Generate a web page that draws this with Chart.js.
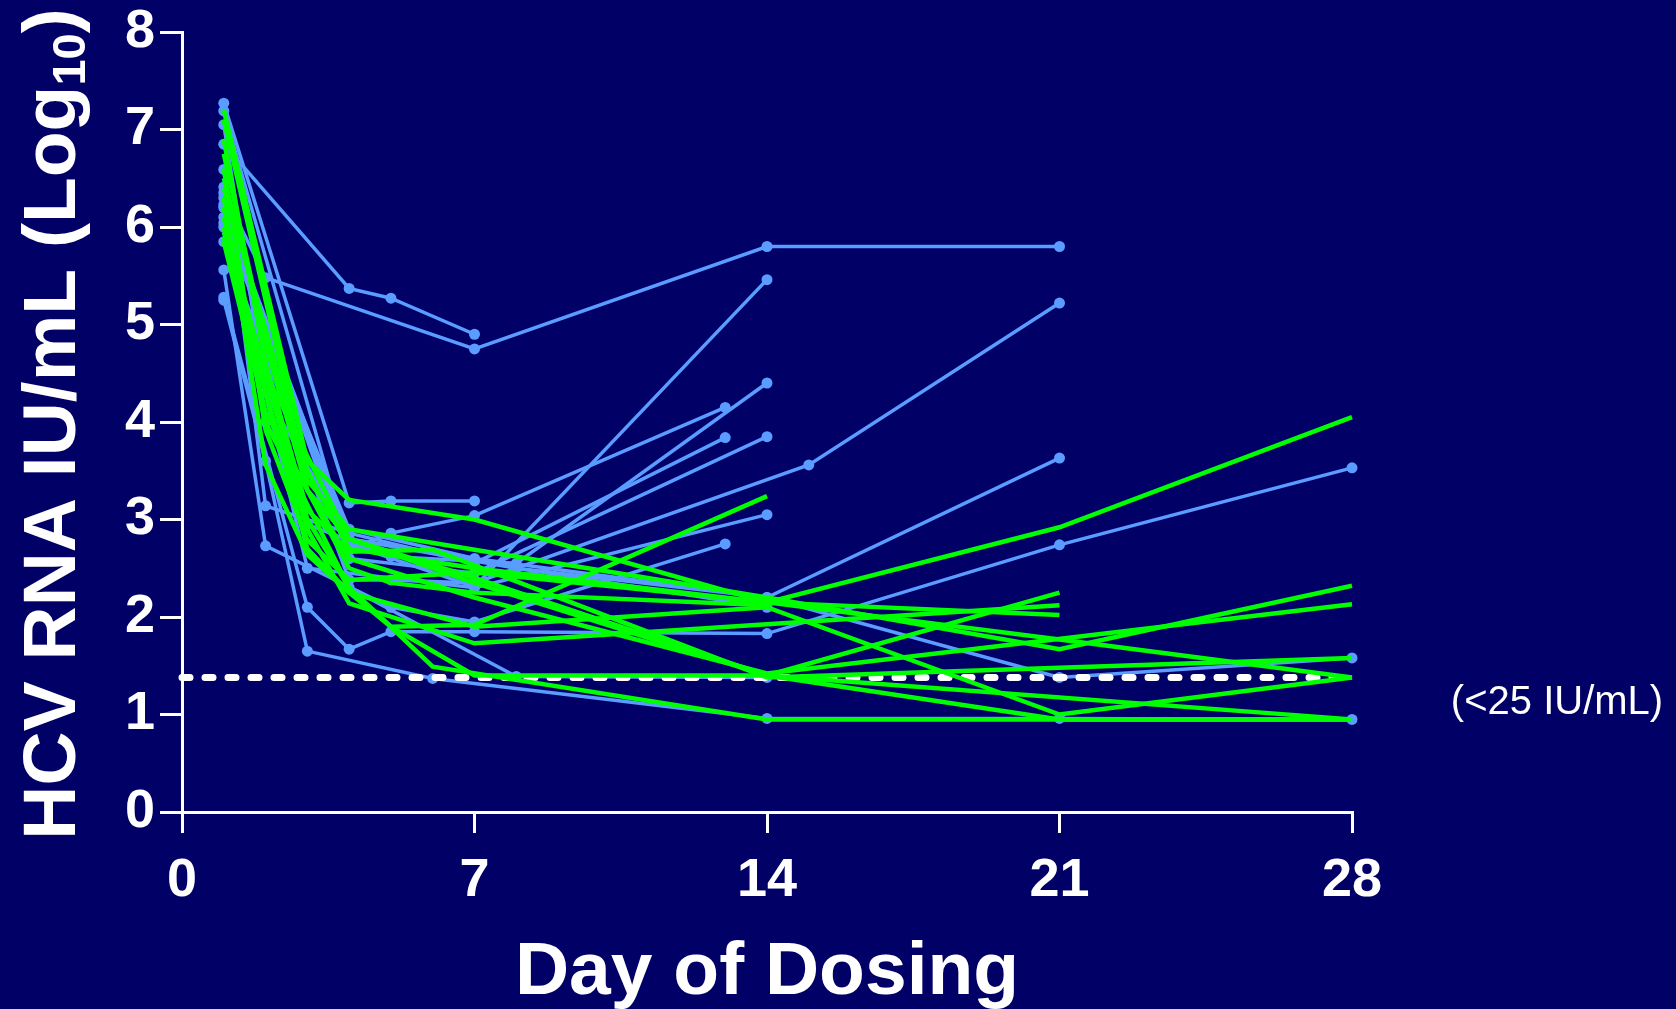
<!DOCTYPE html>
<html>
<head>
<meta charset="utf-8">
<script src="https://cdn.jsdelivr.net/npm/chart.js@4.4.1/dist/chart.umd.min.js"></script>
<style>
  html, body { margin: 0; padding: 0; background: #000066; overflow: hidden; }
  canvas { display: block; }
</style>
</head>
<body>
<canvas id="hcvChart" width="1676" height="1009"></canvas>
<script>
// Blue subjects (with markers): days and log10 values
const blueDays = [
  [1, 4, 5, 7],
  [1, 2, 7, 14, 21],
  [1, 4, 5, 7],
  [1, 4, 5, 7, 13],
  [1, 2, 4, 7, 13],
  [1, 3, 5, 8, 14],
  [1, 4, 7, 14],
  [1, 4, 7, 14],
  [1, 4, 5, 7, 15, 21],
  [1, 3, 7, 14],
  [1, 2, 5, 7, 13],
  [1, 3, 4, 5, 7, 14, 21, 28],
  [1, 2, 3, 6, 14, 21, 28],
  [1, 2, 4, 8, 14],
  [1, 4, 7, 14, 21, 28],
  [1, 4, 8, 14, 21],
  [1, 2, 4, 8, 14]
];
const blueLogs = [
  [6.85, 5.37, 5.27, 4.90],
  [6.35, 5.48, 4.75, 5.80, 5.80],
  [7.27, 3.17, 3.19, 3.19],
  [7.19, 2.69, 2.86, 3.04, 4.15],
  [6.59, 3.14, 2.86, 2.55, 3.84],
  [6.41, 2.95, 2.62, 2.55, 4.40],
  [6.23, 2.60, 2.45, 3.85],
  [6.10, 2.75, 2.31, 5.46],
  [5.85, 2.38, 2.38, 2.35, 3.56, 5.22],
  [6.04, 2.50, 2.30, 3.05],
  [5.56, 2.73, 2.10, 1.95, 2.75],
  [5.28, 2.10, 1.67, 1.85, 1.85, 1.83, 2.74, 3.53],
  [5.25, 3.60, 1.65, 1.37, 0.96, 0.96, 0.95],
  [6.30, 4.00, 2.30, 1.39, 1.38],
  [6.20, 2.80, 2.60, 2.20, 1.38, 1.58],
  [6.00, 2.90, 2.50, 2.20, 3.63],
  [7.05, 4.30, 2.80, 2.50, 2.10]
];

// Green subjects (no markers)
const greenDays = [
  [1, 3, 4, 7, 14, 21, 28],
  [1, 3, 4, 7, 14, 21, 28],
  [1, 2, 3, 4, 6, 7, 14, 28],
  [1, 2, 3, 4, 7, 14, 21, 28],
  [1, 2, 3, 4, 5, 7, 14],
  [1, 2, 3, 4, 7, 21],
  [1, 3, 4, 5, 7, 14, 21],
  [1, 3, 4, 7, 14, 28],
  [1, 2, 4, 6, 14, 28],
  [1, 3, 4, 7, 14, 21, 28],
  [1, 2, 4, 7, 14, 28],
  [1, 3, 4, 7, 14, 21],
  [1, 2, 3, 4, 7, 14, 21, 28],
  [1, 2, 4, 5, 7, 14]
];
const greenLogs = [
  [7.20, 3.60, 3.20, 3.00, 2.15, 2.92, 4.05],
  [7.10, 3.40, 2.90, 2.69, 2.20, 1.67, 2.32],
  [6.90, 4.60, 3.10, 2.67, 2.69, 2.53, 1.38, 1.58],
  [6.60, 3.92, 2.79, 2.38, 2.46, 2.15, 1.77, 1.38],
  [6.30, 3.56, 2.64, 2.25, 1.90, 1.92, 3.24],
  [6.10, 4.30, 2.90, 2.14, 1.73, 2.12],
  [5.95, 3.00, 2.30, 1.90, 1.40, 1.40, 2.25],
  [6.50, 3.30, 2.60, 2.20, 1.42, 2.13],
  [6.20, 4.00, 2.30, 1.49, 0.95, 0.95],
  [5.90, 2.70, 2.25, 1.90, 2.10, 1.00, 1.38],
  [6.00, 4.50, 2.80, 2.35, 1.40, 0.95],
  [6.40, 3.50, 2.70, 2.50, 2.15, 2.02],
  [6.75, 4.80, 3.30, 2.80, 2.40, 1.40, 0.95, 0.95],
  [5.85, 4.10, 2.50, 2.35, 2.25, 2.12]
];

const xTicks = [0, 7, 14, 21, 28];
const yTicks = [0, 1, 2, 3, 4, 5, 6, 7, 8];
const lloqLog = 1.38;
const lloqLabel = '(<25 IU/mL)';
const xTitle = 'Day of Dosing';
const yTitleMain = 'HCV RNA IU/mL (Log';
const yTitleSub = '10';
const yTitleEnd = ')';

const FONT = '"Liberation Sans", Arial, Helvetica, sans-serif';
const BLUE = '#5A9CFF';
const GREEN = '#00FF00';

function toPoints(days, logs) {
  return days.map((d, i) => ({ x: d, y: logs[i] }));
}

const datasets = [];
greenDays.forEach((days, i) => {
  datasets.push({
    data: toPoints(days, greenLogs[i]),
    borderColor: GREEN,
    borderWidth: 4.5,
    pointRadius: 0,
    tension: 0,
    clip: false,
    order: 0
  });
});
datasets.push({
  data: [{ x: xTicks[0], y: lloqLog }, { x: xTicks[xTicks.length - 1], y: lloqLog }],
  borderColor: '#FFFFFF',
  borderWidth: 7,
  borderDash: [8, 15],
  borderCapStyle: 'round',
  pointRadius: 0,
  clip: false,
  order: 1
});
blueDays.forEach((days, i) => {
  datasets.push({
    data: toPoints(days, blueLogs[i]),
    borderColor: BLUE,
    backgroundColor: BLUE,
    borderWidth: 3.5,
    pointRadius: 5.5,
    pointBorderWidth: 0,
    pointBackgroundColor: BLUE,
    tension: 0,
    clip: false,
    order: 2
  });
});

// Titles (with subscript) and the LLOQ note
const textPlugin = {
  id: 'textPlugin',
  afterDraw(chart) {
    const ctx = chart.ctx;
    const area = chart.chartArea;
    const yScale = chart.scales.y;
    ctx.save();
    ctx.fillStyle = '#FFFFFF';
    ctx.textBaseline = 'alphabetic';

    ctx.font = 'bold 75px ' + FONT;
    ctx.textAlign = 'center';
    ctx.fillText(xTitle, (area.left + area.right) / 2, 994);

    ctx.save();
    ctx.translate(75, (area.top + area.bottom) / 2 + 2);
    ctx.rotate(-Math.PI / 2);
    ctx.textAlign = 'left';
    const bigFont = 'bold 75px ' + FONT;
    const smallFont = 'bold 47px ' + FONT;
    ctx.font = bigFont;
    const w1 = ctx.measureText(yTitleMain).width;
    const w3 = ctx.measureText(yTitleEnd).width;
    ctx.font = smallFont;
    const w2 = ctx.measureText(yTitleSub).width;
    let x = -(w1 + w2 + w3) / 2;
    ctx.font = bigFont;
    ctx.fillText(yTitleMain, x, 0);
    x += w1;
    ctx.font = smallFont;
    ctx.fillText(yTitleSub, x, 10);
    x += w2;
    ctx.font = bigFont;
    ctx.fillText(yTitleEnd, x, 0);
    ctx.restore();

    ctx.font = '40px ' + FONT;
    ctx.textAlign = 'center';
    ctx.fillText(lloqLabel, 1557, yScale.getPixelForValue(lloqLog) + 37);
    ctx.restore();
  }
};

const tickFont = { family: FONT, size: 54, weight: 'bold' };

new Chart(document.getElementById('hcvChart'), {
  type: 'line',
  data: { datasets: datasets },
  options: {
    responsive: false,
    animation: false,
    devicePixelRatio: 1,
    layout: { padding: { left: 0, right: 324, top: 32, bottom: 0 } },
    plugins: {
      legend: { display: false },
      tooltip: { enabled: false }
    },
    scales: {
      x: {
        type: 'linear',
        min: 0,
        max: 28,
        afterBuildTicks: (scale) => { scale.ticks = xTicks.map(v => ({ value: v })); },
        afterFit: (scale) => {
          scale.height = 197;
          scale.paddingLeft = 0;
          scale.paddingRight = 0;
        },
        grid: { drawOnChartArea: false, color: '#FFFFFF', lineWidth: 3, tickLength: 21 },
        border: { display: true, color: '#FFFFFF', width: 3 },
        ticks: { color: '#FFFFFF', font: tickFont, padding: 16, maxRotation: 0, autoSkip: false }
      },
      y: {
        min: 0,
        max: 8,
        afterBuildTicks: (scale) => { scale.ticks = yTicks.map(v => ({ value: v })); },
        afterFit: (scale) => {
          scale.width = 182;
          scale.paddingTop = 0;
          scale.paddingBottom = 0;
        },
        grid: { drawOnChartArea: false, color: '#FFFFFF', lineWidth: 3, tickLength: 22 },
        border: { display: true, color: '#FFFFFF', width: 3 },
        ticks: { color: '#FFFFFF', font: tickFont, padding: 5, autoSkip: false }
      }
    }
  },
  plugins: [textPlugin]
});
</script>
</body>
</html>
